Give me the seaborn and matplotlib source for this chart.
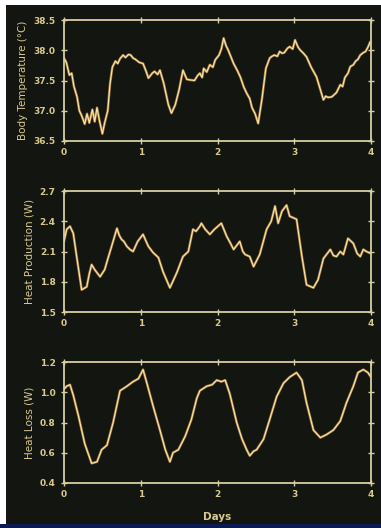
import matplotlib
matplotlib.use("Agg")
import matplotlib.pyplot as plt
import seaborn as sns
import pandas as pd
from matplotlib.patches import Rectangle

# ---- data ----
temp_days = [0.00, 0.03, 0.07, 0.10, 0.13, 0.17, 0.20, 0.23, 0.27, 0.30, 0.33, 0.37, 0.40, 0.43,
             0.46, 0.50, 0.53, 0.57, 0.60, 0.63, 0.67, 0.70, 0.73, 0.77, 0.80, 0.84, 0.87, 0.90, 0.93, 0.98, 1.03,
             1.07, 1.10, 1.15, 1.18, 1.22, 1.25, 1.30, 1.36, 1.40, 1.45, 1.50, 1.55, 1.60, 1.64, 1.70, 1.74, 1.77,
             1.80, 1.82, 1.86, 1.90, 1.94, 1.97, 2.02, 2.05, 2.08, 2.11, 2.14, 2.21, 2.26, 2.30, 2.34, 2.38, 2.42, 2.45, 2.49, 2.53, 2.58, 2.63,
             2.68, 2.71, 2.74, 2.78, 2.81, 2.84, 2.87, 2.91, 2.94, 2.98, 3.01, 3.05, 3.08, 3.12, 3.16, 3.22, 3.29, 3.34, 3.38, 3.41, 3.44, 3.49,
             3.55, 3.60, 3.63, 3.66, 3.70, 3.73, 3.77, 3.80, 3.83, 3.86, 3.90, 3.93, 3.96, 3.99]
temp_vals = [37.87, 37.80, 37.59, 37.62, 37.40, 37.23, 37.00, 36.92, 36.78, 36.95, 36.80, 37.02, 36.82, 37.05,
             36.85, 36.62, 36.80, 37.00, 37.45, 37.72, 37.82, 37.78, 37.86, 37.92, 37.88, 37.93, 37.92, 37.87, 37.85, 37.80, 37.78,
             37.65, 37.54, 37.62, 37.65, 37.60, 37.67, 37.45, 37.10, 36.96, 37.10, 37.35, 37.67, 37.52, 37.51, 37.50, 37.58, 37.62,
             37.55, 37.70, 37.64, 37.76, 37.72, 37.84, 37.92, 38.02, 38.20, 38.08, 38.00, 37.78, 37.66, 37.55, 37.40, 37.29, 37.20, 37.05, 36.95, 36.79, 37.20, 37.70,
             37.87, 37.90, 37.92, 37.90, 37.98, 37.95, 37.96, 38.03, 38.06, 38.02, 38.17, 38.05, 38.00, 37.95, 37.89, 37.72, 37.56, 37.35, 37.18, 37.24, 37.22, 37.23,
             37.30, 37.43, 37.40, 37.55, 37.62, 37.73, 37.76, 37.82, 37.85, 37.92, 37.96, 37.98, 38.05, 38.14]

prod_days = [0.00, 0.035, 0.078, 0.121, 0.165, 0.23, 0.296, 0.33, 0.36, 0.40, 0.44, 0.47, 0.53, 0.58, 0.62, 0.69, 0.72, 0.75,
             0.78, 0.82, 0.86, 0.90, 0.96, 1.03, 1.07, 1.10, 1.16, 1.23, 1.29, 1.38, 1.47, 1.55, 1.62, 1.68, 1.72, 1.77, 1.79,
             1.84, 1.90, 1.96, 2.05, 2.12, 2.17, 2.21, 2.25, 2.29, 2.33, 2.36, 2.42, 2.47, 2.55, 2.64, 2.70, 2.75, 2.79, 2.84, 2.90, 2.94, 3.03,
             3.10, 3.16, 3.25, 3.31, 3.38, 3.43, 3.47, 3.51, 3.55, 3.60, 3.64, 3.70, 3.77, 3.82, 3.86, 3.90, 3.94, 4.00]
prod_vals = [2.20, 2.32, 2.35, 2.28, 2.05, 1.72, 1.75, 1.88, 1.97, 1.92, 1.88, 1.85, 1.92, 2.05, 2.15, 2.33, 2.26, 2.22,
             2.20, 2.15, 2.12, 2.10, 2.20, 2.27, 2.20, 2.15, 2.09, 2.04, 1.90, 1.74, 1.89, 2.05, 2.10, 2.32, 2.30, 2.35, 2.38,
             2.32, 2.27, 2.32, 2.38, 2.25, 2.18, 2.12, 2.16, 2.20, 2.10, 2.07, 2.05, 1.95, 2.07, 2.32, 2.40, 2.55, 2.38, 2.50, 2.56, 2.45, 2.42,
             2.05, 1.77, 1.74, 1.82, 2.03, 2.08, 2.12, 2.06, 2.05, 2.10, 2.07, 2.23, 2.18, 2.08, 2.05, 2.12, 2.10, 2.08]

loss_days = [0.00, 0.035, 0.078, 0.121, 0.19, 0.27, 0.36, 0.43, 0.49, 0.56, 0.64, 0.73, 0.82, 0.90,
             0.97, 1.03, 1.08, 1.16, 1.25, 1.32, 1.38, 1.42, 1.49, 1.58, 1.66, 1.73, 1.77, 1.86,
             1.93, 1.99, 2.05, 2.10, 2.16, 2.25, 2.32, 2.38, 2.42, 2.47, 2.51, 2.60, 2.68, 2.77, 2.86,
             2.94, 3.03, 3.10, 3.16, 3.25, 3.34, 3.42, 3.51, 3.60, 3.68, 3.77, 3.83, 3.90, 3.96, 4.00]
loss_vals = [1.02, 1.04, 1.05, 0.98, 0.84, 0.66, 0.53, 0.54, 0.62, 0.65, 0.80, 1.01, 1.04, 1.07,
             1.09, 1.15, 1.06, 0.91, 0.75, 0.62, 0.54, 0.60, 0.62, 0.71, 0.82, 0.96, 1.01, 1.04,
             1.05, 1.08, 1.07, 1.08, 0.99, 0.80, 0.69, 0.62, 0.58, 0.61, 0.62, 0.69, 0.82, 0.97, 1.06,
             1.10, 1.13, 1.08, 0.93, 0.75, 0.70, 0.72, 0.75, 0.81, 0.93, 1.04, 1.13, 1.15, 1.13, 1.10]

x_ticks = [0, 1, 2, 3, 4]
temp_ticks = [36.5, 37.0, 37.5, 38.0, 38.5]
prod_ticks = [1.5, 1.8, 2.1, 2.4, 2.7]
loss_ticks = [0.4, 0.6, 0.8, 1.0, 1.2]
ylabels = ["Body Temperature (°C)", "Heat Production (W)", "Heat Loss (W)"]
xlabel = "Days"

# ---- style ----
bg = "#131610"
fg = "#d9c98e"
spine = "#d8d0a2"
sns.set_theme(style="dark", rc={"figure.facecolor": bg, "axes.facecolor": bg})
plt.rcParams["font.family"] = ["DejaVu Sans"]

fig = plt.figure(figsize=(3.81, 5.28), dpi=100)
fig.patch.set_facecolor(bg)

left = 64 / 381
width = (371 - 64) / 381
h = 121 / 528
bottoms = [1 - 141 / 528, 1 - 312 / 528, 1 - 483 / 528]

series = [(temp_days, temp_vals, temp_ticks), (prod_days, prod_vals, prod_ticks), (loss_days, loss_vals, loss_ticks)]

for i, ((dx, dy, ticks), b) in enumerate(zip(series, bottoms)):
    ax = fig.add_axes([left, b, width, h])
    ax.set_facecolor(bg)
    df = pd.DataFrame({"day": dx, "val": dy})
    sns.lineplot(data=df, x="day", y="val", ax=ax, color="#d99a40", lw=1.8, alpha=0.75)
    sns.lineplot(data=df, x="day", y="val", ax=ax, color="#f6e8b8", lw=0.8)
    ax.set_xlim(0, 4)
    ax.set_ylim(ticks[0], ticks[-1])
    ax.set_xticks(x_ticks)
    ax.set_yticks(ticks)
    ax.set_xticklabels([str(t) for t in x_ticks])
    ax.set_yticklabels([f"{t:.1f}" for t in ticks])
    for s in ax.spines.values():
        s.set_visible(True)
        s.set_color(spine)
        s.set_linewidth(1.3)
    ax.tick_params(axis="both", which="both", direction="inout", length=4, width=1,
                   color=spine, labelcolor=fg, labelsize=6.5, top=True, right=True,
                   left=True, bottom=True, pad=4)
    ax.tick_params(axis="y", labelright=False)
    ax.tick_params(axis="x", labeltop=False, pad=3)
    for lab in ax.get_xticklabels() + ax.get_yticklabels():
        lab.set_fontweight("bold")
    ax.set_ylabel(ylabels[i], color=fg, fontsize=7.5, labelpad=4)
    ax.set_xlabel("")
    ax.grid(False)

fig.text(217 / 381, 1 - 517 / 528, xlabel, color=fg, fontsize=7.5, fontweight="bold",
         ha="center", va="center")

# frame artefacts of the scanned picture
fig.patches.append(Rectangle((0, 1 - 5 / 528), 1, 5 / 528, transform=fig.transFigure,
                             facecolor="white", edgecolor="none", zorder=10))
fig.patches.append(Rectangle((0, 0), 6 / 381, 1, transform=fig.transFigure,
                             facecolor="white", edgecolor="none", zorder=10))
fig.patches.append(Rectangle((0, 0), 1, 4 / 528, transform=fig.transFigure,
                             facecolor="#0b1a52", edgecolor="none", zorder=10))

fig.savefig("out.png", dpi=100, facecolor=bg)
